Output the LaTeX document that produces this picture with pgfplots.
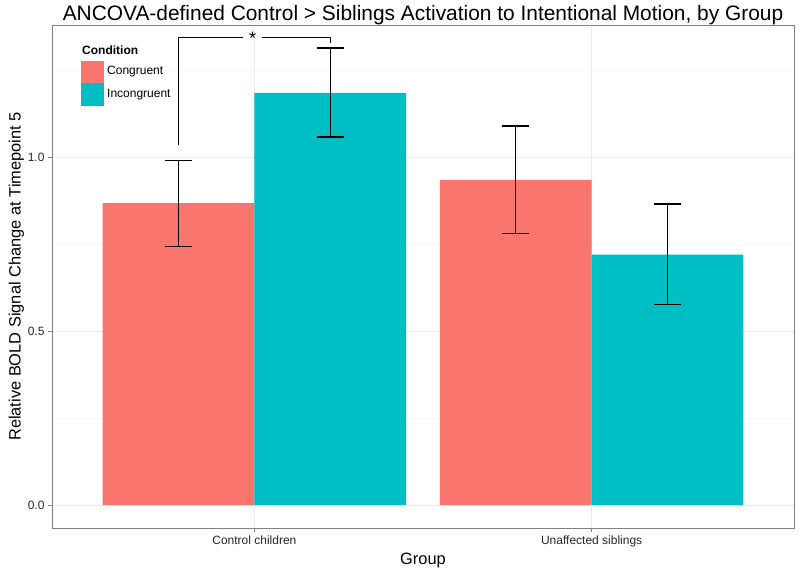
\documentclass[border=0pt]{standalone}
\usepackage{fontspec}
\setmainfont{Liberation Sans}
\usepackage{pgfplots}
\pgfplotsset{compat=1.18}
\definecolor{congr}{HTML}{F8766D}
\definecolor{incongr}{HTML}{00BFC4}
\pgfplotsset{
  errbar/.style={mark=none, draw=none, forget plot,
    error bars/.cd, y dir=both, y explicit,
    error bar style={draw=black, line width=1.2bp},
    error mark options={draw=black, line width=1.2bp, mark size=13.5bp, rotate=90, mark=|}},
}
\begin{document}
\begin{tikzpicture}
\begin{axis}[
  scale only axis,
  width=742bp, height=503bp,
  xmin=0.4, xmax=2.6,
  ymin=-0.066, ymax=1.379,
  xtick={1,2},
  xticklabels={Control children, Unaffected siblings},
  ytick={0,0.5,1},
  yticklabels={0.0,0.5,1.0},
  minor ytick={0.25,0.75,1.25},
  xtick pos=lower, ytick pos=left,
  tick align=outside,
  major tick length=4bp, minor tick length=0pt,
  tick style={black!50, line width=0.6bp},
  axis line style={black!50, line width=0.8bp},
  grid=both,
  major grid style={black!8, line width=0.6bp},
  minor grid style={black!3, line width=0.5bp},
  ticklabel style={font=\fontsize{12bp}{14bp}\selectfont, text=black!85},
  /pgf/number format/assume math mode=true,
  xlabel={Group},
  ylabel={Relative BOLD Signal Change at Timepoint 5},
  label style={font=\fontsize{16.4bp}{18bp}\selectfont},
  ylabel style={yshift=-3bp},
  clip=false,
]
% Congruent
\addplot[ybar, fill=congr, draw=none, bar width=0.45, bar shift=-0.225]
  coordinates {(1,0.867) (2,0.934)};
% Incongruent
\addplot[ybar, fill=incongr, draw=none, bar width=0.45, bar shift=0.225]
  coordinates {(1,1.184) (2,0.719)};
% error bars at the bar centres
\addplot[errbar] coordinates {(0.775,0.867) += (0,0.122) -= (0,0.125)
                              (1.775,0.934) += (0,0.155) -= (0,0.154)};
\addplot[errbar] coordinates {(1.225,1.184) += (0,0.129) -= (0,0.127)
                              (2.225,0.719) += (0,0.146) -= (0,0.144)};
% significance bracket
\addplot[black, line width=1.2bp, mark=none, forget plot] coordinates {(0.775,1.034) (0.775,1.342) (0.965,1.342)};
\addplot[black, line width=1.2bp, mark=none, forget plot] coordinates {(1.024,1.342) (1.225,1.342) (1.225,1.328)};
\node[inner sep=0pt, font=\fontsize{18bp}{18bp}\selectfont] at (axis cs:0.995,1.342) {*};
\coordinate (nw) at (rel axis cs:0,1);
\coordinate (se) at (rel axis cs:1,0);
\coordinate (nc) at (rel axis cs:0.5,1);
\end{axis}
% title
\node[anchor=base, inner sep=0pt, font=\fontsize{20.9bp}{24bp}\selectfont] at ([yshift=4bp]nc) {ANCOVA-defined Control > Siblings Activation to Intentional Motion, by Group};
% legend
\node[anchor=base west, inner sep=0pt, font=\bfseries\fontsize{12bp}{14bp}\selectfont] at ([xshift=30bp,yshift=-30bp]nw) {Condition};
\fill[congr] ([xshift=29bp,yshift=-36bp]nw) rectangle ([xshift=52bp,yshift=-58bp]nw);
\fill[incongr] ([xshift=29bp,yshift=-58bp]nw) rectangle ([xshift=52bp,yshift=-81bp]nw);
\node[anchor=west, inner sep=0pt, font=\fontsize{12bp}{14bp}\selectfont] at ([xshift=55bp,yshift=-47bp]nw) {Congruent};
\node[anchor=west, inner sep=0pt, font=\fontsize{12bp}{14bp}\selectfont] at ([xshift=55bp,yshift=-70bp]nw) {Incongruent};
\pgfresetboundingbox
\path[use as bounding box] ([xshift=-52bp,yshift=25bp]nw) rectangle ([xshift=6bp,yshift=-43bp]se);
\end{tikzpicture}
\end{document}
